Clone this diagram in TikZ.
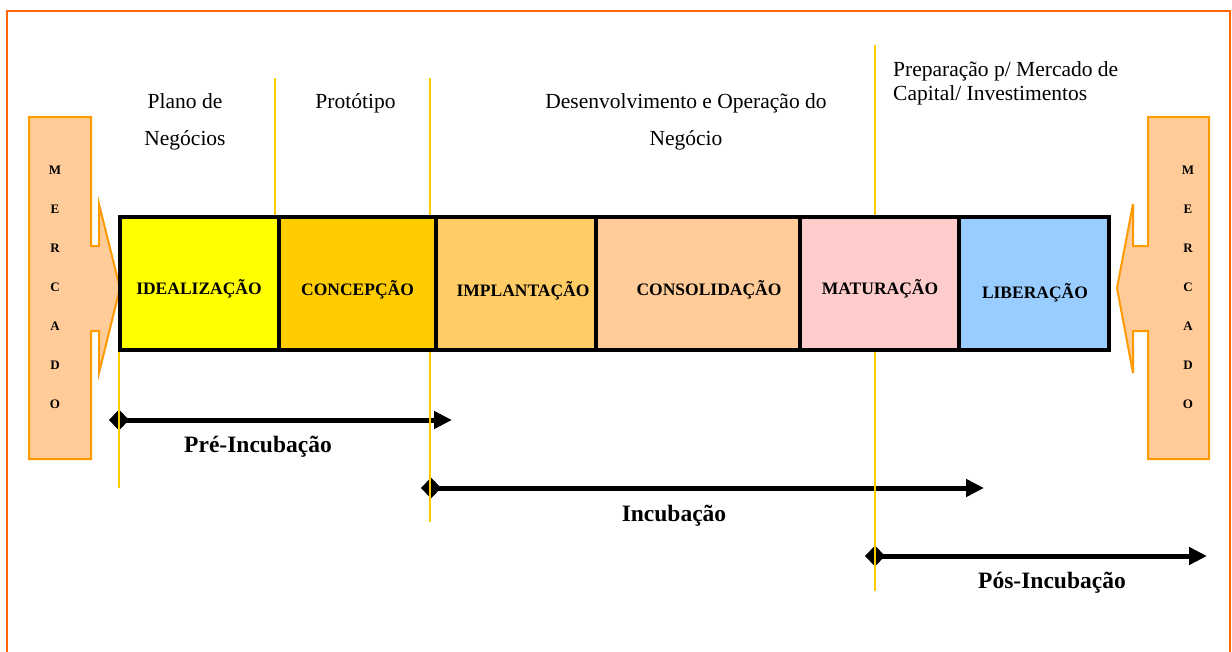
\documentclass[tikz,border=0pt]{standalone}
\usepackage{fontspec}
\setmainfont{Liberation Serif}
\usetikzlibrary{arrows.meta}
\definecolor{frameor}{HTML}{FF6600}
\definecolor{mkor}{HTML}{FF9900}
\definecolor{mkfill}{HTML}{FFCC99}
\definecolor{yl}{HTML}{FFCC00}
\definecolor{cA}{HTML}{FFFF00}
\definecolor{cB}{HTML}{FFCC00}
\definecolor{cC}{HTML}{FFCC66}
\definecolor{cD}{HTML}{FFCC99}
\definecolor{cE}{HTML}{FFCCCC}
\definecolor{cF}{HTML}{99CCFF}
\begin{document}
\begin{tikzpicture}[x=1pt,y=-1pt,
  stagebox/.style={draw=black, line width=4pt, minimum height=133pt, anchor=north west, inner sep=0pt, outer sep=0pt},
  stagetxt/.style={font=\fontsize{17.5}{20}\selectfont\bfseries, inner sep=0pt, anchor=base},
  toptxt/.style={font=\fontsize{21.5}{25}\selectfont, inner sep=0pt, anchor=base},
  mktxt/.style={font=\fontsize{13}{39}\selectfont\bfseries, align=center, inner sep=0pt},
  phasetxt/.style={font=\fontsize{23.5}{28}\selectfont\bfseries, inner sep=0pt, anchor=base},
  guide/.style={draw=yl, line width=2pt},
  phase/.style={line width=5pt, {Diamond[length=20pt,width=21pt]}-{Triangle[length=18pt,width=17pt]}},
  mkshape/.style={draw=mkor, fill=mkfill, line width=2pt, line join=miter}
]
\useasboundingbox (0,0) rectangle (1232,651);
% outer frame
\draw[frameor, line width=2pt] (7,680) -- (7,11) -- (1230,11) -- (1230,680);

% MERCADO arrows
\draw[mkshape] (29,117) -- (91,117) -- (91,246) -- (99,246) -- (99,204) -- (120,288)
  -- (99,373) -- (99,331) -- (91,331) -- (91,459) -- (29,459) -- cycle;
\node[mktxt] (mkL) at (55,287) {M\\E\\R\\C\\A\\D\\O};
\draw[mkshape] (1209,117) -- (1148,117) -- (1148,246) -- (1133,246) -- (1133,204) -- (1117,288)
  -- (1133,373) -- (1133,331) -- (1148,331) -- (1148,459) -- (1209,459) -- cycle;
\node[mktxt] (mkR) at (1188,287) {M\\E\\R\\C\\A\\D\\O};

% stage boxes
\node[stagebox, fill=cA, minimum width=159pt] (b1) at (120,217) {};
\node[stagebox, fill=cB, minimum width=157pt] (b2) at (279,217) {};
\node[stagebox, fill=cC, minimum width=160pt] (b3) at (436,217) {};
\node[stagebox, fill=cD, minimum width=204pt] (b4) at (596,217) {};
\node[stagebox, fill=cE, minimum width=159pt] (b5) at (800,217) {};
\node[stagebox, fill=cF, minimum width=150pt] (b6) at (959,217) {};

\node[stagetxt] (t1) at (199,294) {IDEALIZAÇÃO};
\node[stagetxt] (t2) at (357.5,295) {CONCEPÇÃO};
\node[stagetxt] (t3) at (523,296) {IMPLANTAÇÃO};
\node[stagetxt] (t4) at (709,295) {CONSOLIDAÇÃO};
\node[stagetxt] (t5) at (880,294) {MATURAÇÃO};
\node[stagetxt] (t6) at (1035,298) {LIBERAÇÃO};

% top labels
\node[toptxt] (l1a) at (185,108) {Plano de};
\node[toptxt] (l1b) at (185,145) {Negócios};
\node[toptxt] (l2) at (355.5,108) {Protótipo};
\node[toptxt] (l3a) at (686,108) {Desenvolvimento e Operação do};
\node[toptxt] (l3b) at (686,145) {Negócio};
\node[toptxt, anchor=base west] (l4a) at (893,76) {Preparação p/ Mercado de};
\node[toptxt, anchor=base west] (l4b) at (893,100) {Capital/ Investimentos};

% phase arrows
\coordinate (preS) at (109,420);
\coordinate (preE) at (452,420);
\coordinate (incS) at (421,488);
\coordinate (incE) at (984,488);
\coordinate (posS) at (865,556);
\coordinate (posE) at (1207,556);
\draw[phase] (preS) -- (preE);
\draw[phase] (incS) -- (incE);
\draw[phase] (posS) -- (posE);
\node[phasetxt] (p1) at (258,452) {Pré-Incubação};
\node[phasetxt] (p2) at (674,521) {Incubação};
\node[phasetxt] (p3) at (1052,588) {Pós-Incubação};

% guide lines
\coordinate (g1a) at (275,78);   \coordinate (g1b) at (275,215);
\coordinate (g2a) at (430,78);   \coordinate (g2b) at (430,215);
\coordinate (g3a) at (875,45);   \coordinate (g3b) at (875,215);
\coordinate (g4a) at (119,352);  \coordinate (g4b) at (119,488);
\coordinate (g5a) at (430,352);  \coordinate (g5b) at (430,522);
\coordinate (g6a) at (875,352);  \coordinate (g6b) at (875,591);
\draw[guide] (g1a) -- (g1b);
\draw[guide] (g2a) -- (g2b);
\draw[guide] (g3a) -- (g3b);
\draw[guide] (g4a) -- (g4b);
\draw[guide] (g5a) -- (g5b);
\draw[guide] (g6a) -- (g6b);
\end{tikzpicture}
\end{document}
